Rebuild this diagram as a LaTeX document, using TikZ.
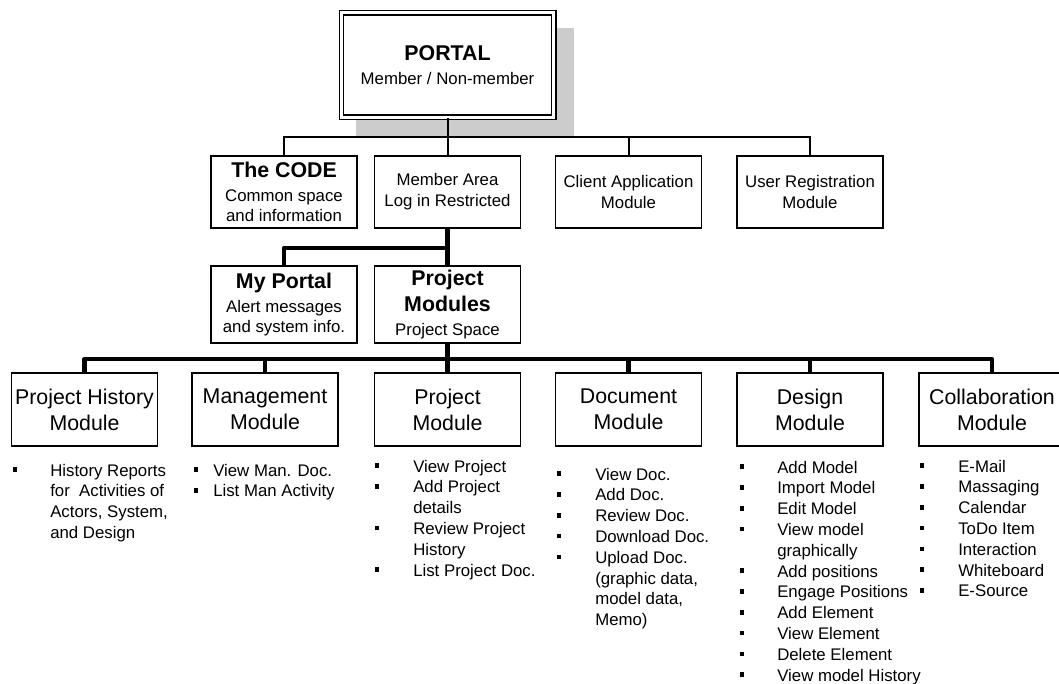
\documentclass[tikz,border=0pt]{standalone}
\usepackage{fontspec}
\setmainfont{Liberation Sans}
\newcommand\smallf{\fontsize{12.6}{15.6}\selectfont}
\newcommand\bigf{\fontsize{16}{19.5}\selectfont}
\newcommand\sqb[1]{\makebox[#1][l]{\rule[3pt]{3.1pt}{3.4pt}}}
\begin{document}
\begin{tikzpicture}[x=0.75pt,y=-0.75pt,
  box/.style={draw,line width=1pt,fill=white,inner sep=0pt,align=center,minimum width=109.5pt},
  toprow/.style={box,minimum height=54pt,font=\smallf},
  midrow/.style={box,minimum height=57.75pt,font=\smallf},
  modbox/.style={box,minimum height=54.75pt,font=\bigf},
  thinline/.style={line width=1.5pt},
  thickline/.style={line width=3.6pt,line join=round},
  itemlist/.style={anchor=base west,inner sep=0pt,font=\smallf}]
\useasboundingbox (0,0) rectangle (1059,684);
\clip (0,0) rectangle (1059,684);
% shadow and portal
\fill[gray!40] (356,28) rectangle (574,138);
\node[draw,fill=white,double,double distance=2.4pt,line width=0.9pt,minimum width=159.3pt,minimum height=78.3pt,inner sep=0pt,align=center,font=\smallf] (portal) at (447.5,65)
  {{\bfseries\fontsize{16}{19.5}\selectfont PORTAL}\\[2.2pt]Member / Non-member};
% second row
\node[toprow] (code) at (284,192) {{\bfseries\fontsize{16}{19.5}\selectfont The CODE}\\[2.4pt]Common space\\[-0.6pt]and information};
\node[toprow] (member) at (447.5,192) {Member Area\\Log in Restricted};
\node[toprow] (client) at (628.5,192) {Client Application\\Module};
\node[toprow] (user) at (810,192) {User Registration\\Module};
% third row
\node[midrow] (myportal) at (284,304.5) {{\bfseries\fontsize{16}{19.5}\selectfont My Portal}\\[2.4pt]Alert messages\\[-0.6pt]and system info.};
\node[midrow] (pmod) at (447.5,304.5) {{\bfseries\fontsize{16}{19.5}\selectfont Project}\\[4.6pt]{\bfseries\fontsize{16}{19.5}\selectfont Modules}\\[2.4pt]Project Space};
% modules
\node[modbox] (ph) at (84.5,409.5) {Project History\\Module};
\node[modbox] (mg) at (265,409.5) {Management\\Module};
\node[modbox] (pr) at (447.5,409.5) {Project\\Module};
\node[modbox] (dc) at (628.5,409.5) {Document\\Module};
\node[modbox] (ds) at (810,409.5) {Design\\Module};
\node[modbox] (cl) at (992,409.5) {Collaboration\\Module};
% connectors
\coordinate (b1) at (0,137.5);
\coordinate (b2) at (0,248);
\coordinate (b3) at (0,359);
\draw[thinline] (portal.south) -- (portal.south |- b1);
\draw[thinline] (code.north) -- (code.north |- b1) -- (user.north |- b1) -- (user.north);
\draw[thinline] (member.north) -- (member.north |- b1);
\draw[thinline] (client.north) -- (client.north |- b1);
\draw[thickline] (member.south) -- (pmod.north);
\draw[thickline] (myportal.north) |- (member.south |- b2);
\draw[thickline] (pmod.south) -- (pmod.south |- b3);
\draw[thickline] (ph.north) |- (cl.north |- b3) -- (cl.north);
\draw[thickline] (mg.north) -- (mg.north |- b3);
\draw[thickline] (pr.north) -- (pr.north |- b3);
\draw[thickline] (dc.north) -- (dc.north |- b3);
\draw[thickline] (ds.north) -- (ds.north |- b3);
% lists
\node[itemlist] (phl) at (13,476) {\begin{tabular}[t]{@{}l@{}}
\sqb{27.75pt}History Reports\\
\hspace*{27.75pt}for~ Activities of\\
\hspace*{27.75pt}Actors, System,\\
\hspace*{27.75pt}and Design\end{tabular}};
\node[itemlist] (mgl) at (194,476) {\begin{tabular}[t]{@{}l@{}}
\sqb{14.25pt}View Man. Doc.\\
\sqb{14.25pt}List Man Activity\end{tabular}};
\node[itemlist] (prl) at (375,472) {\begin{tabular}[t]{@{}l@{}}
\sqb{28.5pt}View Project\\
\sqb{28.5pt}Add Project\\
\hspace*{28.5pt}details\\
\sqb{28.5pt}Review Project\\
\hspace*{28.5pt}History\\
\sqb{28.5pt}List Project Doc.\end{tabular}};
\node[itemlist] (dcl) at (557,480) {\begin{tabular}[t]{@{}l@{}}
\sqb{28.5pt}View Doc.\\
\sqb{28.5pt}Add Doc.\\
\sqb{28.5pt}Review Doc.\\
\sqb{28.5pt}Download Doc.\\
\sqb{28.5pt}Upload Doc.\\
\hspace*{28.5pt}(graphic data,\\
\hspace*{28.5pt}model data,\\
\hspace*{28.5pt}Memo)\end{tabular}};
\node[itemlist] (dsl) at (740,473) {\begin{tabular}[t]{@{}l@{}}
\sqb{27.75pt}Add Model\\
\sqb{27.75pt}Import Model\\
\sqb{27.75pt}Edit Model\\
\sqb{27.75pt}View model\\
\hspace*{27.75pt}graphically\\
\sqb{27.75pt}Add positions\\
\sqb{27.75pt}Engage Positions\\
\sqb{27.75pt}Add Element\\
\sqb{27.75pt}View Element\\
\sqb{27.75pt}Delete Element\\
\sqb{27.75pt}View model History\end{tabular}};
\node[itemlist] (cll) at (920,472) {\begin{tabular}[t]{@{}l@{}}
\sqb{28.5pt}E-Mail\\
\sqb{28.5pt}Massaging\\
\sqb{28.5pt}Calendar\\
\sqb{28.5pt}ToDo Item\\
\sqb{28.5pt}Interaction\\
\sqb{28.5pt}Whiteboard\\
\sqb{28.5pt}E-Source\end{tabular}};
\end{tikzpicture}
\end{document}
